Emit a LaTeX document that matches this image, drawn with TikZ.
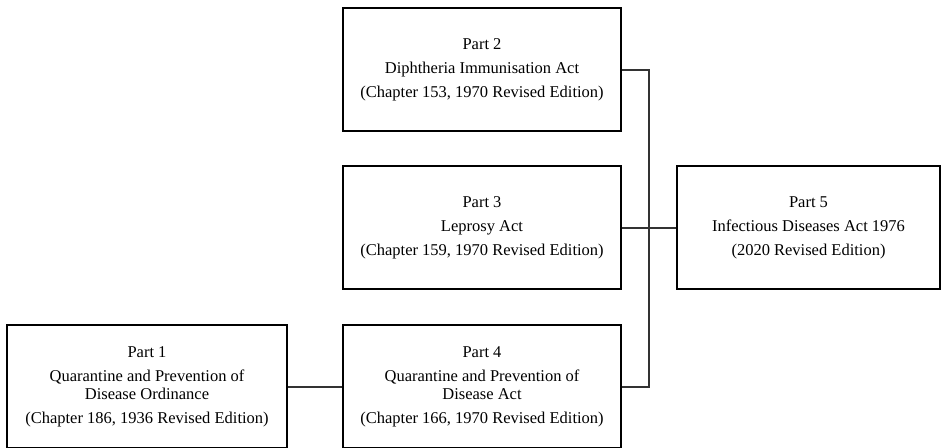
\documentclass[tikz,border=0pt]{standalone}
\usepackage{fontspec}
\setmainfont{Liberation Serif}
\begin{document}
\begin{tikzpicture}[x=1pt,y=-1pt,
  partbox/.style={draw=black, line width=1.3pt, fill=white, rectangle, inner sep=0pt,
    minimum height=123pt, align=center, font=\fontsize{16.5}{18}\selectfont},
  link/.style={draw=black!80, line width=2pt}]
\useasboundingbox[fill=white] (0,0) rectangle (950,447);
\begin{scope}
\clip (0,0) rectangle (950,447);
\node[partbox, minimum width=278pt] (p2) at (482,69.5)
  {Part 2\\[6pt]Diphtheria Immunisation Act\\[6pt](Chapter 153, 1970 Revised Edition)};
\node[partbox, minimum width=278pt] (p3) at (482,227.5)
  {Part 3\\[6pt]Leprosy Act\\[6pt](Chapter 159, 1970 Revised Edition)};
\node[partbox, minimum width=278pt] (p4) at (482,386.5)
  {Part 4\\[6pt]Quarantine and Prevention of\\Disease Act\\[6pt](Chapter 166, 1970 Revised Edition)};
\node[partbox, minimum width=280pt] (p1) at (147,386.5)
  {Part 1\\[6pt]Quarantine and Prevention of\\Disease Ordinance\\[6pt](Chapter 186, 1936 Revised Edition)};
\node[partbox, minimum width=263pt] (p5) at (808.5,227.5)
  {Part 5\\[6pt]Infectious Diseases Act 1976\\[6pt](2020 Revised Edition)};
\coordinate (bus) at (649,0);
\draw[link] (p2.east) -- (p2.east -| bus) -- (p4.east -| bus) -- (p4.east);
\draw[link] (p3.east) -- (p5.west);
\draw[link] (p1.east) -- (p4.west);
\end{scope}
\end{tikzpicture}
\end{document}
